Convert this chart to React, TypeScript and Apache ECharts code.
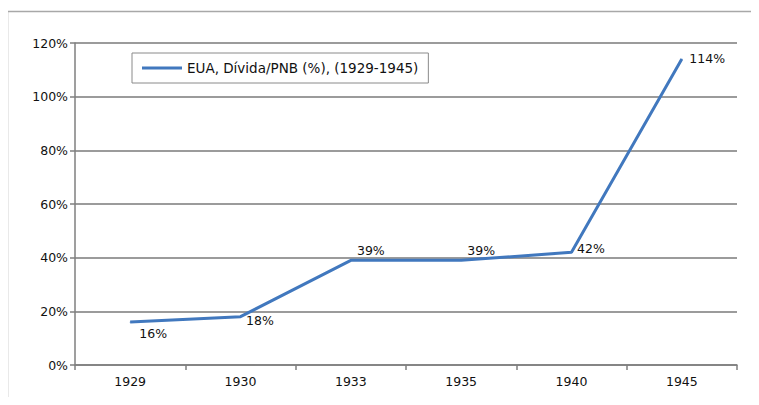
import React, { useEffect, useRef } from "react";
import * as echarts from "echarts";

const categories = ["1929", "1930", "1933", "1935", "1940", "1945"];
const values = [16, 18, 39, 39, 42, 114];
const seriesName = "EUA, Dívida/PNB (%), (1929-1945)";
const yTicks = [0, 20, 40, 60, 80, 100, 120];

const labelPlacements: any[] = [
  { position: "bottom", offset: [23, -1] },
  { position: "right", offset: [0, 4] },
  { position: "top", offset: [20, 2] },
  { position: "top", offset: [20, 2] },
  { position: "right", offset: [0, -4] },
  { position: "right", offset: [2, -1] },
];

export default function App() {
  const ref = useRef<HTMLDivElement>(null);
  useEffect(() => {
    if (!ref.current) return;
    const chart = echarts.init(ref.current, null, { renderer: "svg" });
    const font = "DejaVu Sans";
    chart.setOption({
      animation: false,
      backgroundColor: "#fff",
      textStyle: { fontFamily: font },
      graphic: [
        {
          type: "line",
          shape: { x1: 7.5, y1: 11.5, x2: 759, y2: 11.5 },
          style: { stroke: "#a8a8a8", lineWidth: 1.5 },
          silent: true,
        },
        {
          type: "line",
          shape: { x1: 7.5, y1: 11.5, x2: 7.5, y2: 405 },
          style: { stroke: "#a8a8a8", lineWidth: 1.5 },
          silent: true,
        },
      ],
      grid: { left: 75, right: 22, top: 43, bottom: 40 },
      legend: {
        left: 132,
        top: 53,
        padding: [8, 10, 8, 10],
        borderColor: "#8a8a8a",
        borderWidth: 1,
        backgroundColor: "#fff",
        itemWidth: 40,
        itemHeight: 3,
        icon: "rect",
        itemGap: 0,
        textStyle: { fontFamily: font, fontSize: 13.5, color: "#111" },
        data: [{ name: seriesName, icon: "rect" }],
      },
      xAxis: {
        type: "category",
        data: categories,
        boundaryGap: true,
        axisLine: { lineStyle: { color: "#7f7f7f", width: 1.5 } },
        axisTick: { show: true, alignWithLabel: false, length: 5, lineStyle: { color: "#7f7f7f", width: 1.5 } },
        axisLabel: { color: "#111", fontSize: 12.5, margin: 10, fontFamily: font },
      },
      yAxis: {
        type: "value",
        min: yTicks[0],
        max: yTicks[yTicks.length - 1],
        interval: 20,
        axisLine: { show: true, lineStyle: { color: "#7f7f7f", width: 1.5 } },
        axisTick: { show: true, length: 5, lineStyle: { color: "#7f7f7f", width: 1.5 } },
        axisLabel: { color: "#111", fontSize: 12.5, margin: 7, formatter: "{value}%", fontFamily: font },
        splitLine: { show: true, lineStyle: { color: "#7a7a7a", width: 1.5 } },
      },
      series: [
        {
          name: seriesName,
          type: "line",
          data: values.map((v, i) => ({
            value: v,
            label: { show: true, ...labelPlacements[i] },
          })),
          symbol: "circle",
          symbolSize: 1,
          showSymbol: true,
          lineStyle: { color: "#4178be", width: 3 },
          itemStyle: { color: "#4178be" },
          label: {
            show: true,
            formatter: "{c}%",
            color: "#111",
            fontSize: 12.5,
            fontFamily: font,
          },
        },
      ],
    });
    return () => chart.dispose();
  }, []);
  return <div ref={ref} style={{ width: 759, height: 405, margin: -8 }} />;
}
